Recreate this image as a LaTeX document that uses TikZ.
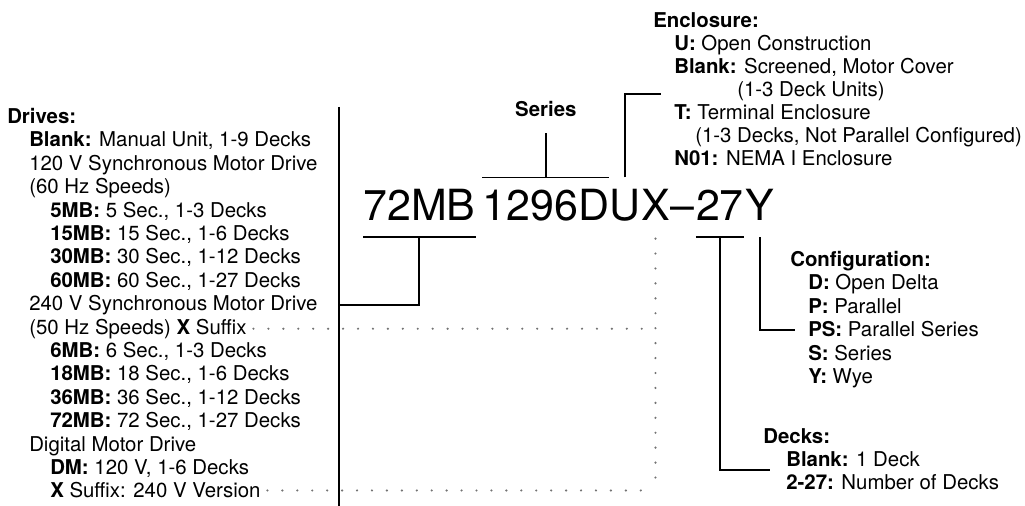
\documentclass[tikz,border=0pt]{standalone}
\usepackage{fontspec}
\setmainfont{TeX Gyre Heros}
\usetikzlibrary{positioning,calc}

\begin{document}
\begin{tikzpicture}[x=0.75pt,y=-0.75pt,
                    every node/.style={inner sep=0pt,font=\fontsize{15.3}{17.5}\selectfont},
                    code/.style={font=\fontsize{32.2}{36}\selectfont},
                    line/.style={line width=1.4pt},
                    dots/.style={line width=1.8pt,line cap=round,black!55,
                                 dash pattern=on 0pt off 11.2pt}]
  \fill[white] (0,0) rectangle (1025,506);
  \useasboundingbox (0,0) rectangle (1025,506);

  % the part number
  \node[code,anchor=base west] (n72MB) at (363,221) {72MB};
  \node[code,base right=5pt of n72MB] (nSer)  {1296D};
  \node[code,base right=0pt of nSer]  (nEnc)  {U};
  \node[code,base right=0pt of nEnc]  (nX)    {X};
  \node[code,base right=0pt of nX]    (nDash) {\textendash};
  \node[code,base right=1pt of nDash] (nDeck) {27};
  \node[code,base right=1pt of nDeck] (nCfg)  {Y};

  % drives
  \foreach \xx/\txt [count=\i] in {7/{\textbf{Drives:}},
      29/{\textbf{Blank:} Manual Unit, 1-9 Decks},
      29/{120 V Synchronous Motor Drive},
      29/{(60 Hz Speeds)},
      50/{\textbf{5MB:} 5 Sec., 1-3 Decks},
      50/{\textbf{15MB:} 15 Sec., 1-6 Decks},
      50/{\textbf{30MB:} 30 Sec., 1-12 Decks},
      50/{\textbf{60MB:} 60 Sec., 1-27 Decks},
      29/{240 V Synchronous Motor Drive},
      29/{(50 Hz Speeds) \textbf{X} Suffix},
      50/{\textbf{6MB:} 6 Sec., 1-3 Decks},
      50/{\textbf{18MB:} 18 Sec., 1-6 Decks},
      50/{\textbf{36MB:} 36 Sec., 1-12 Decks},
      50/{\textbf{72MB:} 72 Sec., 1-27 Decks},
      29/{Digital Motor Drive},
      50/{\textbf{DM:} 120 V, 1-6 Decks},
      50/{\textbf{X} Suffix: 240 V Version}}
    \node[anchor=base west] (drv\i) at (\xx,100.1+23.4*\i) {\txt};

  % enclosure
  \foreach \xx/\txt [count=\i] in {653/{\textbf{Enclosure:}},
      674/{\textbf{U:} Open Construction},
      674/{\textbf{Blank:} Screened, Motor Cover},
      737/{(1-3 Deck Units)},
      674/{\textbf{T:} Terminal Enclosure},
      695/{(1-3 Decks, Not Parallel Configured)},
      674/{\textbf{N01:} NEMA I Enclosure}}
    \node[anchor=base west] (enc\i) at (\xx,5.1+22.9*\i) {\txt};

  % configuration
  \foreach \xx/\txt [count=\i] in {790/{\textbf{Configuration:}},
      808/{\textbf{D:} Open Delta},
      808/{\textbf{P:} Parallel},
      808/{\textbf{PS:} Parallel Series},
      808/{\textbf{S:} Series},
      808/{\textbf{Y:} Wye}}
    \node[anchor=base west] (cfg\i) at (\xx,243.1+23.4*\i) {\txt};

  % decks
  \foreach \xx/\txt [count=\i] in {763/{\textbf{Decks:}},
      786/{\textbf{Blank:} 1 Deck},
      786/{\textbf{2-27:} Number of Decks}}
    \node[anchor=base west] (dk\i) at (\xx,420.5+23*\i) {\txt};

  \node[font=\fontsize{15.3}{17.5}\selectfont\bfseries,above=54pt of nSer] (serlbl) {Series};

  \coordinate (septop) at (339,107);
  \coordinate (sepbot) at (339,506);
  \coordinate (encin)  at (661,94);
  \coordinate (cfgin)  at (795,330);
  \coordinate (dkin)   at (770,470);
  \coordinate (xdrop)  at ([yshift=-13pt]nX.south);

  \draw[line] (septop) -- (sepbot);

  \draw[line] ([yshift=-12pt]n72MB.south west) -- ([yshift=-12pt]n72MB.south east);
  \draw[line] ([yshift=-12pt]n72MB.south) |- (septop |- drv9);

  \draw[line] ([yshift=9pt]nSer.north west) -- ([yshift=9pt]nSer.north east);
  \draw[line] ([yshift=9pt]nSer.north) -- ([yshift=-12pt]serlbl.south);

  \draw[line] ([yshift=9pt]nEnc.north) |- (encin);

  \draw[line] ([yshift=-12pt]nDeck.south west) -- ([yshift=-12pt]nDeck.south east);
  \draw[line] ([yshift=-12pt]nDeck.south) |- (dkin);

  \draw[line] ([yshift=-12pt]nCfg.south) |- (cfgin);

  % X suffix guides
  \draw[dots] (xdrop) -- (xdrop |- drv17.east);
  \draw[dots] ([xshift=5pt]drv10.east) -- (xdrop |- drv10.east);
  \draw[dots] ([xshift=5pt]drv17.east) -- (xdrop |- drv17.east);
\end{tikzpicture}
\end{document}
